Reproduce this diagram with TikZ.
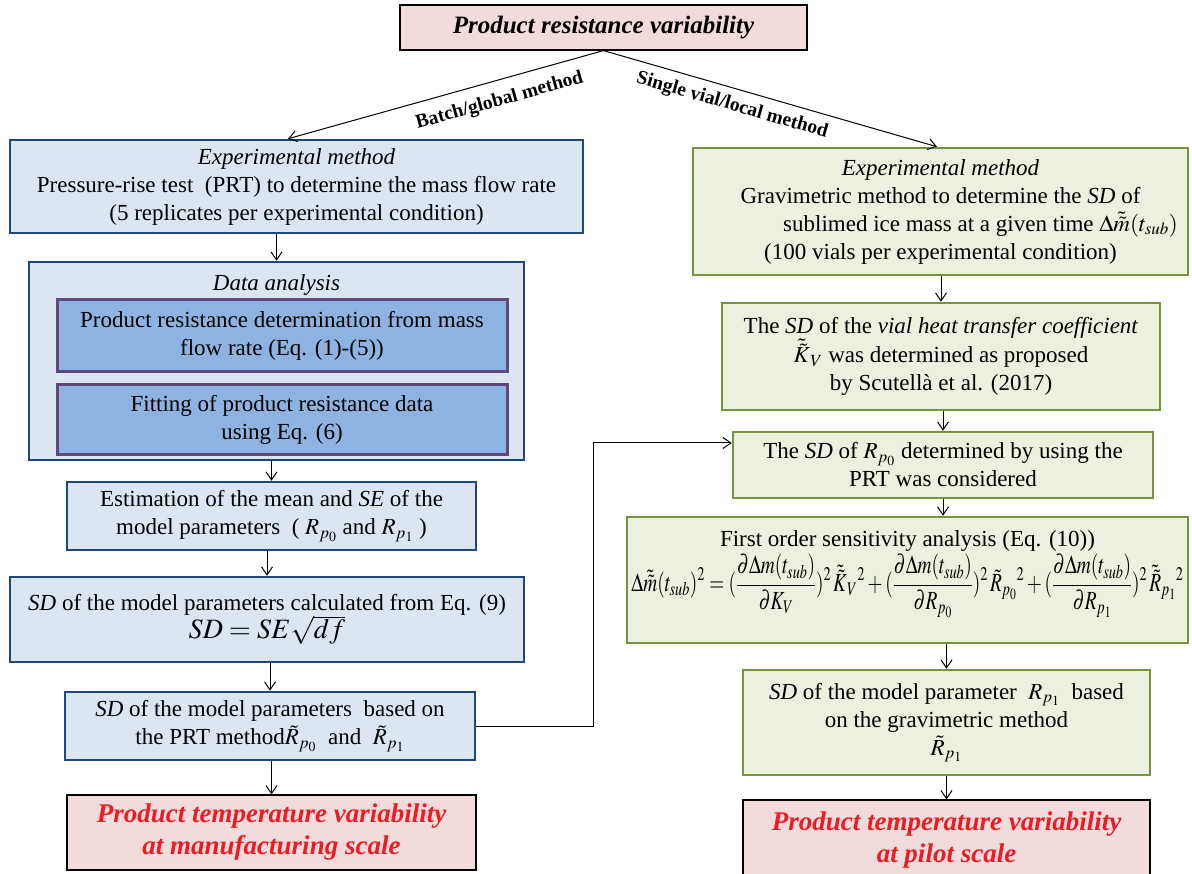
\documentclass[tikz,border=0pt]{standalone}
\usepackage{mathptmx}
\usepackage{fontspec}
\setmainfont{Liberation Serif}
\usepackage{graphicx}
\usetikzlibrary{positioning,arrows.meta}
\definecolor{colorpink}     {RGB}{242,220,219}
\definecolor{colorbluebg}   {RGB}{220,230,242}
\definecolor{colorblueline} {RGB}{31,73,125}
\definecolor{colorinner}    {RGB}{141,179,226}
\definecolor{colorpurple}   {RGB}{96,73,122}
\definecolor{colorgreenbg}  {RGB}{235,241,222}
\definecolor{colorgreenline}{RGB}{119,147,60}
\definecolor{colorred}      {RGB}{237,28,36}
\definecolor{colortext}     {RGB}{0,0,0}

\begin{document}
\begin{tikzpicture}[
    x=1pt, y=-1pt,
    font={\fontsize{23}{28}\selectfont},
    >={Straight Barb[length=8pt,width=11pt]},
    box/.style={draw,line width=2.5pt,align=center,inner sep=2pt},
    bluebox/.style={box,draw=colorblueline,fill=colorbluebg},
    innerbox/.style={box,draw=colorpurple,fill=colorinner,line width=3pt},
    greenbox/.style={box,draw=colorgreenline,fill=colorgreenbg},
    result/.style={box,draw=black,line width=1.2pt,fill=colorpink,text=colorred,font={\fontsize{27}{32}\selectfont\bfseries\itshape}},
    flow/.style={->,line width=1pt},
    method/.style={font={\fontsize{19.5}{22}\selectfont\bfseries},sloped,below},
]
    \useasboundingbox (0,0) rectangle (1192,874);

    % Top
    \node[result, text=colortext, font={\fontsize{25}{30}\selectfont\bfseries\itshape}, minimum width=407pt, minimum height=45pt] (prv) at (603.5,27.5) {Product resistance variability};

    % Batch/global method
    \node[bluebox, minimum width=573pt, minimum height=93pt] (expL) at (296.5,186.5)
        {\textit{Experimental method}\\ Pressure-rise test\ \ (PRT) to determine the mass flow rate\\ (5 replicates per experimental condition)};
    \node[bluebox, minimum width=495pt, minimum height=198pt] (dana) at (276.5,361) {};
    \node (datitle) at (276.5,285) {\textit{Data analysis}};
    \node[innerbox, minimum width=450pt, minimum height=72pt] (prdet) at (282,336)
        {Product resistance determination from mass\\ flow rate (Eq. (1)-(5))};
    \node[innerbox, minimum width=450pt, minimum height=70pt] (prfit) at (282,420)
        {Fitting of product resistance data\\ using Eq. (6)};
    \node[bluebox, minimum width=409pt, minimum height=68pt] (est) at (271.5,516)
        {Estimation of the mean and \textit{SE} of the\\ model parameters\ \ ( $R_{p_0}$ and $R_{p_1}$ )};
    \node[bluebox, minimum width=514pt, minimum height=85pt] (sdcalc) at (267,619.5)
        {\textit{SD} of the model parameters calculated from Eq. (9)\\ {\fontsize{28}{30}\selectfont $SD = SE\sqrt{df}$}};
    \node[bluebox, minimum width=410pt, minimum height=68pt] (sdprt) at (270,726)
        {\textit{SD} of the model parameters\ \ based on\\ the PRT method$\tilde{R}_{p_0}$\ \ and\ \ $\tilde{R}_{p_1}$};
    \node[result, minimum width=409pt, minimum height=75pt] (tmanuf) at (271.5,832.5)
        {Product temperature variability\\ at manufacturing scale};

    % Single vial/local method
    \node[greenbox, minimum width=495pt, minimum height=127pt] (expR) at (940.5,211.5)
        {\textit{Experimental method}\\ Gravimetric method to determine the \textit{SD} of\\ \hspace*{80pt}sublimed ice mass at a given time $\Delta\tilde{\tilde{m}}(t_{sub})$\\ (100 vials per experimental condition)};
    \node[greenbox, minimum width=438pt, minimum height=107pt] (kv) at (941,356.5)
        {The \textit{SD} of the \textit{vial heat transfer coefficient}\\ $\tilde{\tilde{K}}_V$ was determined as proposed\\ by Scutellà et al. (2017)};
    \node[greenbox, minimum width=420pt, minimum height=66pt] (rpzero) at (943,465)
        {The \textit{SD} of $R_{p_0}$ determined by using the\\ PRT was considered};
    \node[greenbox, minimum width=561pt, minimum height=126pt] (sens) at (907.5,580)
        {First order sensitivity analysis (Eq. (10))\\[2pt]
         \scalebox{1}[1.35]{\resizebox{552pt}{!}{$\displaystyle \Delta\tilde{\tilde{m}}(t_{sub})^2 = (\frac{\partial\Delta m(t_{sub})}{\partial K_V})^2\,\tilde{\tilde{K}}_V{}^2 + (\frac{\partial\Delta m(t_{sub})}{\partial R_{p_0}})^2\,\tilde{R}_{p_0}{}^2 + (\frac{\partial\Delta m(t_{sub})}{\partial R_{p_1}})^2\,\tilde{\tilde{R}}_{p_1}{}^2$}}\\[10pt]};
    \node[greenbox, minimum width=407pt, minimum height=105pt] (rpone) at (946.5,722.5)
        {\textit{SD} of the model parameter\ \ $R_{p_1}$\ \ based\\ on the gravimetric method\\ $\tilde{R}_{p_1}$};
    \node[result, minimum width=407pt, minimum height=80pt] (tpilot) at (946.5,840)
        {Product temperature variability\\ at pilot scale};

    % Connectors
    \draw[flow] (prv.south) -- ([xshift=-8.5pt]expL.north) node[method,pos=0.347,below=8pt] {Batch/global method};
    \draw[flow] (prv.south) -- ([xshift=-3.5pt]expR.north) node[method,pos=0.40,below=4.5pt] {Single vial/local method};

    \draw[flow] (expL.south -| dana.north) -- (dana.north);
    \draw[flow] (dana.south -| est.north) -- (est.north);
    \draw[flow] (est.south -| sdcalc.north) -- (sdcalc.north);
    \draw[flow] (sdcalc.south -| sdprt.north) -- (sdprt.north);
    \draw[flow] (sdprt.south -| tmanuf.north) -- (tmanuf.north);

    \draw[flow] (expR.south -| kv.north) -- (kv.north);
    \draw[flow] (kv.south -| rpzero.north) -- (rpzero.north);
    \draw[flow] (rpzero.south) -- (rpzero.south |- sens.north);
    \draw[flow] (sens.south -| rpone.north) -- (rpone.north);
    \draw[flow] (rpone.south -| tpilot.north) -- (tpilot.north);

    \draw[flow] (sdprt.east) -- ++(117,0) |- ([yshift=22pt]rpzero.west);

\end{tikzpicture}
\end{document}
